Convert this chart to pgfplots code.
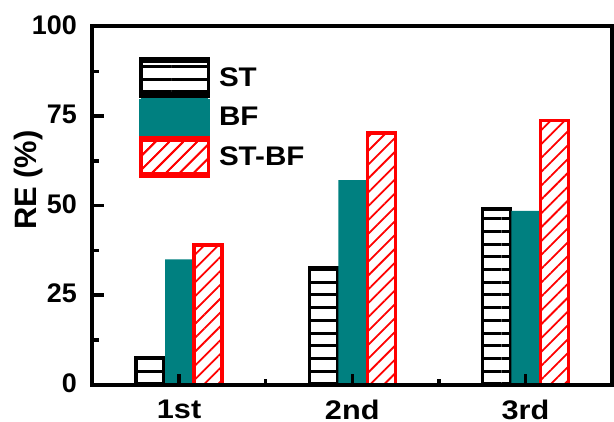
\documentclass[border=0pt]{standalone}
\usepackage{fontspec}
\setmainfont{Liberation Sans}
\newfontfamily\widefont[FakeStretch=1.1]{Liberation Sans}
\newfontfamily\widerfont[FakeStretch=1.14]{Liberation Sans}
\usepackage{pgfplots}
\pgfplotsset{compat=1.18}
\usetikzlibrary{patterns.meta}
\definecolor{bfteal}{RGB}{0,128,128}

\begin{document}
\begin{tikzpicture}
\begin{axis}[
  scale only axis, width=519.5bp, height=358.2bp,
  ybar=1bp, bar width=28bp,
  xmin=0.5, xmax=3.5, ymin=0, ymax=100,
  xtick={1,2,3}, xticklabels={1st,2nd,3rd},
  minor xtick={1.5,2.5},
  ytick={0,25,50,75,100}, minor ytick={12.5,37.5,62.5,87.5},
  xtick pos=bottom, ytick pos=left,
  tick align=inside,
  major tick length=11bp, minor tick length=6bp,
  tick style={black, line width=3.5bp},
  axis line style={line width=4bp},
  axis on top,
  /pgf/number format/assume math mode=true,
  yticklabel style={font=\fontsize{27}{27}\selectfont\bfseries,
    anchor=east, inner sep=0pt, xshift=-15.5bp, yshift=1.5bp},
  xticklabel style={font=\widerfont\fontsize{27}{27}\selectfont\bfseries,
    anchor=north, inner sep=0pt, yshift=-15.5bp},
  ylabel={RE (\%)},
  ylabel style={font=\fontsize{31}{31}\selectfont\bfseries,
    at={(axis description cs:-0.1074,0.5715)}, anchor=base},
  legend image code/.code={
    \path (0bp,-19bp) rectangle (67bp,19bp);
    \draw[#1] (0bp,-16.5bp) rectangle (67bp,16.5bp);},
  legend cell align=left,
  legend style={at={(axis description cs:0,1)}, anchor=north west,
    xshift=47bp, yshift=-30.3bp, draw=none, fill=none,
    inner sep=0pt, outer sep=0pt, row sep=0pt, column sep=9bp,
    nodes={inner sep=0pt},
    font=\widefont\fontsize{27}{27}\selectfont\bfseries},
]
% ST: horizontal hatching, black outline
\addplot[draw=black, line width=3.5bp,
  pattern={Lines[angle=0,distance=12.7bp,line width=3bp]}, pattern color=black]
  coordinates {(1,7.4) (2,32.7) (3,49.0)};
\addlegendentry{ST}
% BF: solid teal
\addplot[draw=none, fill=bfteal,
  legend image code/.code={
    \path (0bp,-19bp) rectangle (67bp,19bp);
    \fill[bfteal] (-1.75bp,-18.5bp) rectangle (68.75bp,18.5bp);}]
  coordinates {(1,35.0) (2,57.1) (3,48.5)};
\addlegendentry{BF}
% ST-BF: red diagonal hatching, red outline
\addplot[draw=red, line width=3.5bp,
  pattern={Lines[angle=45,distance=9.8bp,line width=1.8bp]}, pattern color=red]
  coordinates {(1,39.0) (2,70.3) (3,73.7)};
\addlegendentry{ST-BF}
\end{axis}
\pgfresetboundingbox
\path ([shift={(-92.5bp,-37.3bp)}]current axis.south west)
  rectangle ([shift={(2bp,26.5bp)}]current axis.north east);
\end{tikzpicture}
\end{document}
